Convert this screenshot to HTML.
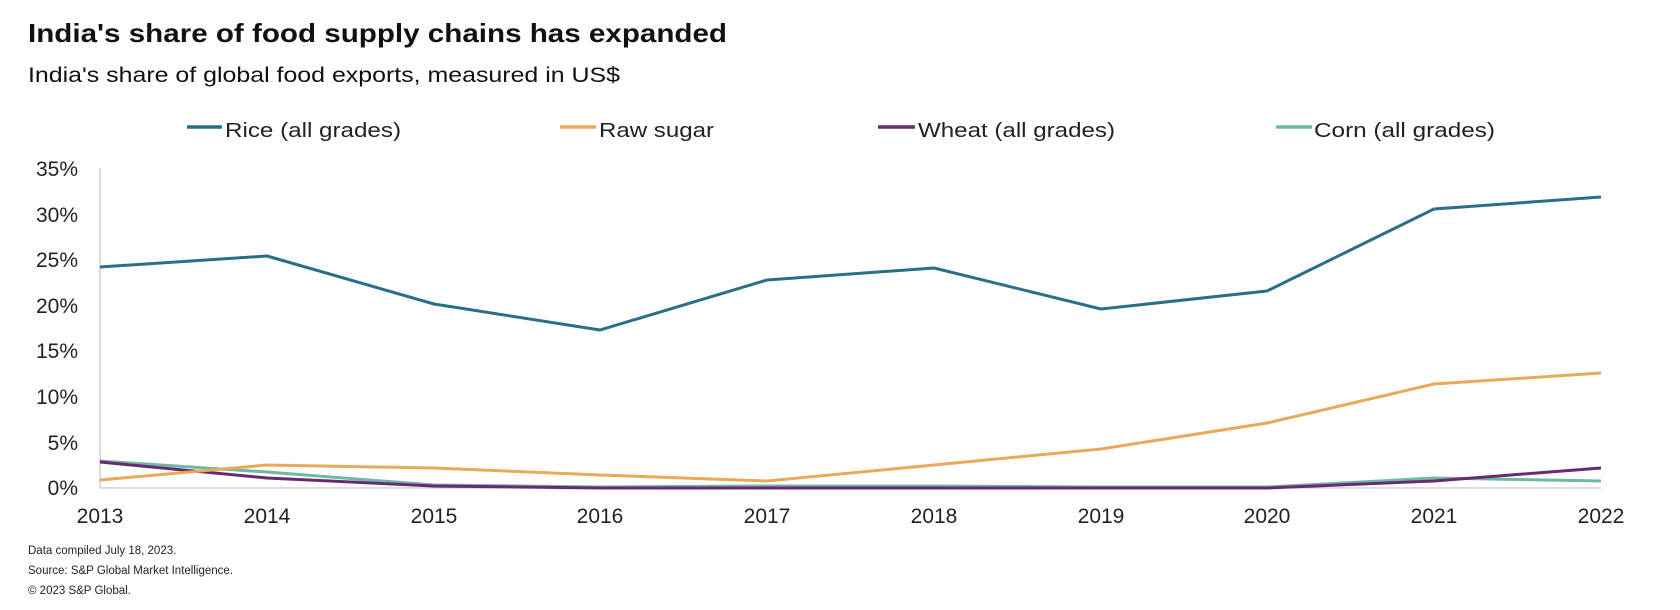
<!DOCTYPE html>
<html><head><meta charset="utf-8"><style>
html,body{margin:0;padding:0;background:#fff;}
svg{display:block;font-family:"Liberation Sans",Arial,sans-serif;}
</style></head><body>
<svg width="1680" height="610" viewBox="0 0 1680 610" xmlns="http://www.w3.org/2000/svg">
<text x="28" y="42" font-size="26" font-weight="bold" fill="#111" textLength="699" lengthAdjust="spacingAndGlyphs">India's share of food supply chains has expanded</text>
<text x="28" y="82" font-size="21" fill="#111" textLength="592" lengthAdjust="spacingAndGlyphs">India's share of global food exports, measured in US$</text>
<g font-size="20" fill="#222">
<line x1="187" y1="127" x2="222" y2="127" stroke="#2a6f86" stroke-width="3.5"/>
<text x="225" y="137" textLength="176" lengthAdjust="spacingAndGlyphs">Rice (all grades)</text>
<line x1="560" y1="127" x2="596" y2="127" stroke="#e8a95a" stroke-width="3.5"/>
<text x="599" y="137" textLength="115" lengthAdjust="spacingAndGlyphs">Raw sugar</text>
<line x1="878" y1="127" x2="915" y2="127" stroke="#6a2a72" stroke-width="3.5"/>
<text x="918" y="137" textLength="197" lengthAdjust="spacingAndGlyphs">Wheat (all grades)</text>
<line x1="1276" y1="127" x2="1312" y2="127" stroke="#6fb8a6" stroke-width="3.5"/>
<text x="1314" y="137" textLength="181" lengthAdjust="spacingAndGlyphs">Corn (all grades)</text>
</g>
<line x1="100" y1="168" x2="100" y2="488" stroke="#bbb" stroke-width="1"/>
<line x1="100" y1="488" x2="1601" y2="488" stroke="#bbb" stroke-width="1"/>
<g font-size="21" fill="#222" text-anchor="end">
<text x="78" y="176">35%</text><text x="78" y="222">30%</text><text x="78" y="267">25%</text>
<text x="78" y="313">20%</text><text x="78" y="358">15%</text><text x="78" y="404">10%</text>
<text x="78" y="450">5%</text><text x="78" y="495">0%</text>
</g>
<g font-size="21" fill="#222" text-anchor="middle">
<text x="100" y="523">2013</text><text x="267" y="523">2014</text><text x="434" y="523">2015</text>
<text x="600" y="523">2016</text><text x="767" y="523">2017</text><text x="934" y="523">2018</text>
<text x="1101" y="523">2019</text><text x="1267" y="523">2020</text><text x="1434" y="523">2021</text>
<text x="1601" y="523">2022</text>
</g>
<g fill="none" stroke-width="3" stroke-linejoin="round">
<polyline stroke="#6fb8a6" points="100,461 267,472 434,485 600,487 767,486 934,486 1101,487 1267,487 1434,478 1601,481"/>
<polyline stroke="#6a2a72" points="100,462 267,478 434,486 600,488 767,488 934,488 1101,488 1267,488 1434,481 1601,468"/>
<polyline stroke="#e8a95a" points="100,480 267,465 434,468 600,475 767,481 934,465 1101,449 1267,423 1434,384 1601,373"/>
<polyline stroke="#2a6f86" points="100,267 267,256 434,304 600,330 767,280 934,268 1101,309 1267,291 1434,209 1601,197"/>
</g>
<g font-size="11.5" fill="#222">
<text x="28" y="554">Data compiled July 18, 2023.</text>
<text x="28" y="574">Source: S&amp;P Global Market Intelligence.</text>
<text x="28" y="594">© 2023 S&amp;P Global.</text>
</g>
</svg>
</body></html>
